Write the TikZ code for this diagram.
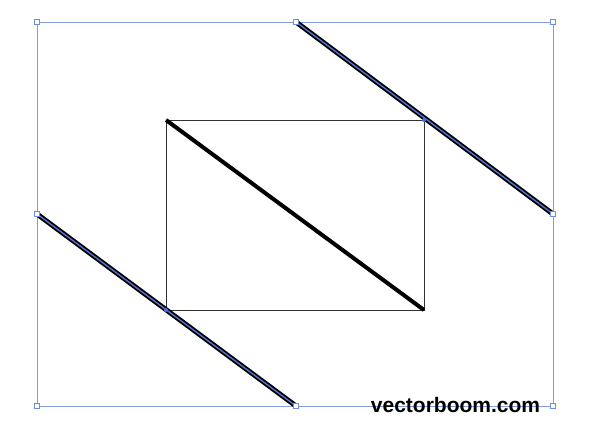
\documentclass[tikz,border=0pt]{standalone}
\usepackage{fontspec}
\setmainfont{Liberation Sans}
\begin{document}
\begin{tikzpicture}[x=1pt,y=-1pt,
  sel/.style={draw=blue!45!cyan!60!black!60, line width=1pt},
  handle/.style={draw=blue!45!cyan!60!black!60, fill=white, line width=0.8pt, minimum size=5pt, inner sep=0pt, shape=rectangle},
  thickpath/.style={line width=5pt, black},
  pathcore/.style={line width=1.3pt, color={rgb,255:red,90;green,120;blue,220}},
  anchorpt/.style={circle, fill={rgb,255:red,70;green,110;blue,230}, inner sep=0pt, minimum size=4pt}]
\useasboundingbox (0,0) rectangle (590,432);
\fill[white] (0,0) rectangle (590,432);
\colorlet{selblue}{blue!45!cyan!60!black!60}
% coordinates
\coordinate (TL) at (37,22);
\coordinate (TM) at (296,22);
\coordinate (TR) at (553,22);
\coordinate (ML) at (37,214);
\coordinate (MR) at (553,214);
\coordinate (BL) at (37,406);
\coordinate (BM) at (296,406);
\coordinate (BR) at (553,406);
\coordinate (RTL) at (166,120);
\coordinate (RTR) at (424,120);
\coordinate (RBL) at (166,310);
\coordinate (RBR) at (424,310);
% selection box
\draw[draw={rgb,255:red,130;green,155;blue,225}, line width=1pt] (TL) rectangle (BR);
% inner rectangle
\draw[line width=0.6pt, black!80] (RTL) rectangle (RBR);
% diagonal
\draw[line width=4pt, black] (RTL) -- (RBR);
% selected paths
\draw[thickpath] (TM) -- (MR);
\draw[pathcore] (TM) -- (MR);
\draw[thickpath] (ML) -- (BM);
\draw[pathcore] (ML) -- (BM);
\node[anchorpt] (a1) at (RTR) {};
\node[anchorpt] (a2) at (RBL) {};
% handles
\foreach \p/\n in {TL/h1,TM/h2,TR/h3,ML/h4,MR/h5,BL/h6,BM/h7,BR/h8}{
  \node[draw={rgb,255:red,110;green,140;blue,225}, fill=white, line width=0.8pt, minimum size=5pt, inner sep=0pt, shape=rectangle] (\n) at (\p) {};
}
% text
\node[anchor=base, font=\fontsize{21}{21}\selectfont\bfseries, inner sep=0pt] (txt) at (455.5,412) {vectorboom.com};
\end{tikzpicture}
\end{document}
